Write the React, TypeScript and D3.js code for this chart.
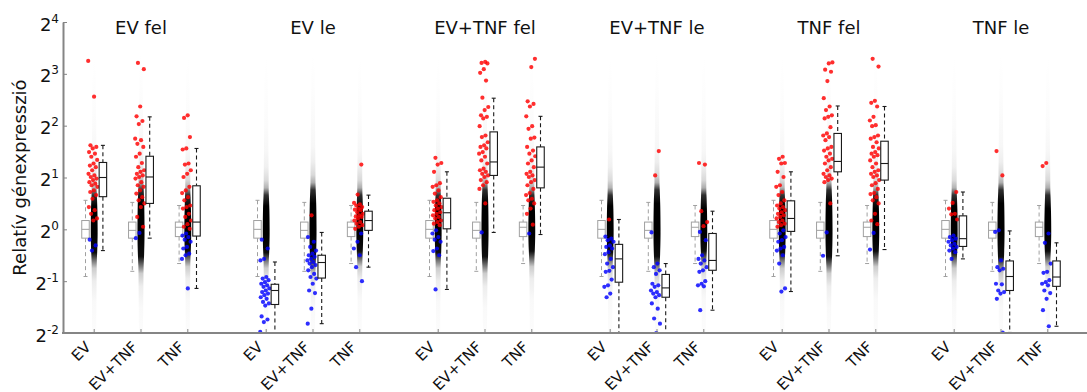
import React, { useEffect, useRef } from "react";
import * as d3 from "d3";

// groups of genes (panel titles) and samples (x categories)
const groups = ["EV fel", "EV le", "EV+TNF fel", "EV+TNF le", "TNF fel", "TNF le"];
const samples = ["EV", "EV+TNF", "TNF"];
const yTickExp = [-2, -1, 0, 1, 2, 3, 4];

// boxplot of all genes per sample, log2: [lowWhisker, q1, median, q3, highWhisker]
const allGenesBox = [
  [-0.91, -0.17, 0.0, 0.17, 0.56],
  [-0.81, -0.17, -0.02, 0.14, 0.52],
  [-0.66, -0.14, 0.04, 0.14, 0.46],
];

// density profile of the all-gene cloud per sample: [log2, darkness, half width]
const cloudEV = [
  [3.3, 0, 1.2], [2.6, 0.008, 1.8], [2.0, 0.016, 2], [1.5, 0.03, 2.2], [1.2, 0.06, 2.4],
  [0.95, 0.14, 2.5], [0.8, 0.3, 2.5], [0.66, 0.8, 2.6], [0.45, 1, 3.2], [-0.1, 1, 3.6],
  [-0.45, 0.95, 3], [-0.6, 0.55, 2.6], [-0.75, 0.2, 2.5], [-1.0, 0.07, 2.4], [-1.4, 0.025, 2.2], [-2.0, 0.01, 2],
];
const cloudEVTNF = [
  [3.4, 0, 1.2], [2.7, 0.008, 1.8], [2.1, 0.018, 2], [1.6, 0.032, 2.2], [1.3, 0.065, 2.4],
  [1.05, 0.15, 2.5], [0.9, 0.32, 2.5], [0.76, 0.82, 2.7], [0.5, 1, 3.3], [-0.1, 1, 3.7],
  [-0.52, 0.95, 3.1], [-0.7, 0.55, 2.6], [-0.85, 0.2, 2.5], [-1.1, 0.07, 2.4], [-1.5, 0.025, 2.2], [-2.0, 0.01, 2],
];
const cloudTNF = [
  [3.3, 0, 1.2], [2.6, 0.008, 1.8], [2.0, 0.017, 2], [1.5, 0.031, 2.2], [1.2, 0.065, 2.4],
  [0.95, 0.15, 2.5], [0.8, 0.32, 2.5], [0.66, 0.82, 2.7], [0.4, 1, 3.2], [-0.1, 1, 3.6],
  [-0.42, 0.95, 3], [-0.58, 0.55, 2.6], [-0.72, 0.2, 2.5], [-0.95, 0.07, 2.4], [-1.35, 0.025, 2.2], [-2.0, 0.01, 2],
];
const clouds = [cloudEV, cloudEVTNF, cloudTNF];

// selected genes, log2 relative expression in each sample (EV, EV+TNF, TNF)
const evFel = [
  [3.25, 2.56, 1.62, 1.59, 1.56, 1.49, 1.46, 1.4, 1.34, 1.27, 1.23, 1.2, 1.14, 1.07, 1.04, 1.01, 0.98, 0.95, 0.91, 0.88, 0.85, 0.82, 0.75, 0.72, 0.66, 0.59, 0.43, 0.37, 0.3, 0.21, 0.17, -0.2, -0.31, -0.41],
  [3.21, 3.09, 2.37, 2.18, 2.09, 2.03, 1.75, 1.72, 1.65, 1.59, 1.46, 1.4, 1.28, 1.2, 1.14, 1.11, 1.07, 1.04, 1.01, 0.98, 0.91, 0.85, 0.82, 0.75, 0.69, 0.62, 0.56, 0.5, 0.43, 0.24, 0.05, -0.07, -0.17],
  [2.2, 2.15, 1.78, 1.56, 1.54, 1.27, 1.25, 1.14, 1.07, 1.01, 0.82, 0.75, 0.7, 0.62, 0.56, 0.46, 0.43, 0.4, 0.3, 0.24, 0.17, 0.1, 0.05, 0.01, -0.08, -0.12, -0.15, -0.2, -0.24, -0.34, -0.37, -0.47, -0.5, -0.57, -1.14],
];
const evLe = [
  [-0.2, -0.37, -0.57, -0.6, -0.92, -0.95, -0.98, -1.02, -1.05, -1.08, -1.11, -1.14, -1.18, -1.21, -1.24, -1.27, -1.31, -1.34, -1.4, -1.43, -1.47, -1.68, -1.74, -1.79, -1.98],
  [0.27, -0.15, -0.24, -0.34, -0.41, -0.47, -0.5, -0.53, -0.57, -0.6, -0.63, -0.66, -0.69, -0.73, -0.79, -0.86, -0.92, -0.95, -1.05, -1.18, -1.23, -1.53, -1.82],
  [1.25, 0.67, 0.51, 0.48, 0.46, 0.43, 0.4, 0.38, 0.37, 0.33, 0.3, 0.27, 0.25, 0.24, 0.21, 0.17, 0.14, 0.11, 0.08, 0.05, 0.01, -0.08, -0.24, -0.37, -0.5, -0.73, -1.0],
];
const evTnfFel = [
  [1.38, 1.28, 1.25, 1.11, 0.89, 0.85, 0.82, 0.75, 0.69, 0.62, 0.56, 0.53, 0.5, 0.46, 0.43, 0.4, 0.37, 0.33, 0.3, 0.27, 0.24, 0.21, 0.17, 0.14, 0.11, 0.08, -0.02, -0.08, -0.15, -0.2, -0.24, -0.37, -0.42, -0.5, -1.16],
  [3.23, 3.21, 3.2, 3.09, 3.02, 2.87, 2.54, 2.36, 2.3, 2.2, 2.17, 2.14, 1.99, 1.81, 1.78, 1.68, 1.62, 1.59, 1.56, 1.49, 1.46, 1.4, 1.33, 1.27, 1.17, 1.14, 1.11, 1.07, 1.04, 1.01, 0.95, 0.91, 0.85, 0.78, 0.5, -0.06],
  [3.29, 3.13, 2.47, 2.42, 2.37, 2.18, 1.99, 1.94, 1.77, 1.75, 1.59, 1.52, 1.46, 1.41, 1.33, 1.27, 1.2, 1.11, 1.07, 1.04, 1.01, 0.95, 0.91, 0.85, 0.78, 0.7, 0.66, 0.59, 0.56, 0.5, 0.4, 0.3, 0.09, -0.08],
];
const evTnfLe = [
  [0.19, -0.14, -0.18, -0.21, -0.24, -0.31, -0.34, -0.37, -0.44, -0.48, -0.57, -0.66, -0.73, -0.8, -0.82, -0.97, -1.08, -1.11, -1.24, -1.31],
  [1.51, 1.04, -0.06, -0.66, -0.73, -0.79, -0.86, -1.05, -1.08, -1.11, -1.18, -1.21, -1.24, -1.27, -1.31, -1.43, -1.53, -1.72, -1.82, -2.0],
  [1.28, 1.25, 0.35, 0.14, 0.06, -0.05, -0.21, -0.5, -0.57, -0.6, -0.66, -0.73, -0.79, -0.82, -1.0, -1.05, -1.08, -1.1, -1.56],
];
const tnfFel = [
  [1.4, 1.36, 1.28, 1.27, 1.11, 1.01, 0.85, 0.82, 0.72, 0.66, 0.56, 0.5, 0.46, 0.43, 0.4, 0.37, 0.33, 0.3, 0.27, 0.24, 0.21, 0.17, 0.14, 0.11, 0.08, 0.05, -0.02, -0.08, -0.15, -0.21, -0.24, -0.34, -0.37, -0.41, -0.5, -0.66, -1.14, -1.2],
  [3.22, 3.2, 3.08, 3.04, 2.86, 2.53, 2.37, 2.3, 2.2, 2.17, 2.14, 1.97, 1.85, 1.81, 1.78, 1.72, 1.59, 1.56, 1.52, 1.46, 1.4, 1.36, 1.33, 1.27, 1.2, 1.14, 1.07, 1.04, 1.01, 0.98, 0.95, 0.91, 0.5, -0.06, -0.51],
  [3.29, 3.14, 2.48, 2.44, 2.37, 2.17, 2.1, 2.01, 1.99, 1.81, 1.78, 1.75, 1.68, 1.59, 1.56, 1.49, 1.46, 1.43, 1.4, 1.33, 1.27, 1.2, 1.14, 1.11, 1.07, 1.04, 1.01, 0.95, 0.89, 0.85, 0.78, 0.7, 0.68, 0.62, 0.56, 0.5, 0.3, 0.17, 0.1, -0.07, -0.39],
];
const tnfLe = [
  [0.72, 0.51, 0.4, 0.3, 0.29, 0.19, -0.12, -0.15, -0.18, -0.21, -0.24, -0.28, -0.31, -0.34, -0.37, -0.41, -0.44, -0.57],
  [1.51, 1.04, -0.02, -0.05, -0.6, -0.73, -0.76, -0.79, -1.05, -1.06, -1.18, -1.21, -1.24, -1.34, -1.99],
  [1.28, 1.22, -0.08, -0.26, -0.66, -0.82, -0.84, -0.98, -1.02, -1.05, -1.08, -1.18, -1.23, -1.34, -1.56, -1.87],
];

// boxplots of the selected genes: [lowWhisker, q1, median, q3, highWhisker]
const evFelBox = [[-0.41, 0.63, 1.0, 1.29, 1.62], [-0.17, 0.5, 1.01, 1.41, 2.17], [-1.14, -0.13, 0.14, 0.84, 1.56]];
const evLeBox = [[-2.01, -1.45, -1.18, -1.06, -0.63], [-1.82, -0.94, -0.64, -0.5, -0.06], [-0.73, -0.02, 0.17, 0.35, 0.66]];
const evTnfFelBox = [[-1.16, 0.01, 0.32, 0.6, 1.11], [-0.06, 1.04, 1.3, 1.88, 2.53], [-0.1, 0.8, 1.2, 1.59, 2.18]];
const evTnfLeBox = [[-2.01, -1.02, -0.57, -0.29, 0.19], [-2.01, -1.31, -1.13, -0.87, -0.66], [-1.56, -0.79, -0.6, -0.08, 0.35]];
const tnfFelBox = [[-1.2, -0.04, 0.21, 0.55, 1.11], [-0.51, 1.11, 1.31, 1.85, 2.38], [-0.39, 0.95, 1.27, 1.7, 2.37]];
const tnfLeBox = [[-0.57, -0.33, -0.18, 0.26, 0.72], [-1.99, -1.18, -0.91, -0.61, -0.03], [-1.87, -1.1, -0.92, -0.61, -0.26]];

const groupValues = [evFel, evLe, evTnfFel, evTnfLe, tnfFel, tnfLe];
const groupBoxes = [evFelBox, evLeBox, evTnfFelBox, evTnfLeBox, tnfFelBox, tnfLeBox];

const W = 1087;
const H = 392;
const FONT = "DejaVu Sans, Verdana, sans-serif";
const AXIS = "#858585";

export default function App() {
  const svgRef = useRef<SVGSVGElement>(null);

  useEffect(() => {
    const svg = d3.select(svgRef.current);
    svg.selectAll("*").remove();

    const left = 63;
    const bottom = 333;
    const top = 22;

    const x = d3.scaleBand().domain(groups).range([55, 1087]).padding(0);
    const xi = d3.scalePoint().domain(samples).range([-46.8, 46.8]);
    const y = d3.scaleLog().base(2).domain([0.25, 16]).range([bottom, top]);
    const yv = (v: number) => y(Math.pow(2, v));
    const tickX = (g: string, s: string) => (x(g) as number) + x.bandwidth() / 2 + (xi(s) as number);
    const shade = d3.interpolateRgb("#ffffff", "#000000");

    const defs = svg.append("defs");
    defs.append("clipPath").attr("id", "plotClip")
      .append("rect").attr("x", left).attr("y", 0).attr("width", W - left).attr("height", bottom - 1);

    // vertical grey gradient for each sample cloud
    clouds.forEach((prof, si) => {
      const y0 = yv(prof[0][0]);
      const y1 = yv(prof[prof.length - 1][0]);
      const grad = defs.append("linearGradient")
        .attr("id", `cloud${si}`)
        .attr("gradientUnits", "userSpaceOnUse")
        .attr("x1", 0).attr("x2", 0).attr("y1", y0).attr("y2", y1);
      prof.forEach(p => {
        grad.append("stop")
          .attr("offset", ((yv(p[0]) - y0) / (y1 - y0)).toFixed(4))
          .attr("stop-color", shade(p[1]));
      });
    });

    const plot = svg.append("g").attr("clip-path", "url(#plotClip)");

    const boxW = 7.5;
    const boxOff = 8.7;

    const drawBox = (cx: number, st: number[], color: string, width: number) => {
      const [lo, q1, med, q3, hi] = st;
      const b = plot.append("g").attr("stroke", color).attr("fill", "none");
      b.append("line").attr("x1", cx).attr("x2", cx).attr("y1", yv(hi)).attr("y2", yv(q3))
        .attr("stroke-width", width).attr("stroke-dasharray", "4,3");
      b.append("line").attr("x1", cx).attr("x2", cx).attr("y1", yv(q1)).attr("y2", yv(lo))
        .attr("stroke-width", width).attr("stroke-dasharray", "4,3");
      [hi, lo].forEach(v => {
        b.append("line").attr("x1", cx - 2).attr("x2", cx + 2).attr("y1", yv(v)).attr("y2", yv(v))
          .attr("stroke-width", width);
      });
      b.append("rect").attr("x", cx - boxW / 2).attr("y", yv(q3))
        .attr("width", boxW).attr("height", yv(q1) - yv(q3))
        .attr("fill", "#fff").attr("stroke-width", width);
      b.append("line").attr("x1", cx - boxW / 2).attr("x2", cx + boxW / 2)
        .attr("y1", yv(med)).attr("y2", yv(med)).attr("stroke-width", width);
    };

    const cloudArea = d3.area<number[]>()
      .y(d => yv(d[0]))
      .curve(d3.curveBasis);

    groups.forEach((g, gi) => {
      samples.forEach((s, si) => {
        const cx = tickX(g, s);

        // all genes: grey box + dense cloud
        drawBox(cx - boxOff, allGenesBox[si], "#a0a0a0", 1);
        plot.append("path")
          .datum(clouds[si])
          .attr("d", cloudArea.x0(d => cx - d[2]).x1(d => cx + d[2]))
          .attr("fill", `url(#cloud${si})`);

        // selected genes
        const vals = groupValues[gi][si];
        plot.append("g")
          .selectAll("circle")
          .data(vals)
          .join("circle")
          .attr("cx", (d, i) => cx - 6 + 9.5 * ((i * 0.6180339 + si * 0.31 + gi * 0.17) % 1))
          .attr("cy", d => yv(d))
          .attr("r", 2.1)
          .attr("fill", d => (d >= 0 ? "#ff0000" : "#0000ff"))
          .attr("fill-opacity", 0.82);

        drawBox(cx + boxOff, groupBoxes[gi][si], "#1a1a1a", 1.1);
      });

      svg.append("text")
        .attr("x", (x(g) as number) + x.bandwidth() / 2)
        .attr("y", 34)
        .attr("text-anchor", "middle")
        .attr("font-family", FONT)
        .attr("font-size", 18)
        .attr("fill", "#111")
        .text(g);
    });

    // axes
    const yAxis = d3.axisLeft(y).tickValues(yTickExp.map(e => Math.pow(2, e)))
      .tickSizeInner(-4).tickSizeOuter(0).tickFormat(() => "");
    const ya = svg.append("g").attr("transform", `translate(${left},0)`).call(yAxis);
    ya.select(".domain").attr("stroke", AXIS).attr("stroke-width", 2);
    ya.selectAll(".tick line").attr("stroke", AXIS).attr("stroke-width", 1);

    svg.append("line")
      .attr("x1", left - 1).attr("x2", W).attr("y1", bottom).attr("y2", bottom)
      .attr("stroke", AXIS).attr("stroke-width", 2);

    yTickExp.forEach(e => {
      const t = svg.append("text")
        .attr("x", 59)
        .attr("y", yv(e) + 8.5)
        .attr("text-anchor", "end")
        .attr("font-family", FONT)
        .attr("font-size", 18)
        .attr("fill", "#111");
      t.append("tspan").text("2");
      t.append("tspan").attr("font-size", 12).attr("dy", -8).text(String(e));
    });

    groups.forEach(g => {
      samples.forEach(s => {
        const cx = tickX(g, s);
        svg.append("line")
          .attr("x1", cx).attr("x2", cx).attr("y1", bottom).attr("y2", bottom - 4)
          .attr("stroke", AXIS).attr("stroke-width", 1);
        svg.append("text")
          .attr("transform", `translate(${cx - 2.5},${bottom + 15}) rotate(-45)`)
          .attr("text-anchor", "end")
          .attr("font-family", FONT)
          .attr("font-size", 15)
          .attr("fill", "#111")
          .text(s);
      });
    });

    svg.append("text")
      .attr("transform", `translate(26,${(top + bottom) / 2}) rotate(-90)`)
      .attr("text-anchor", "middle")
      .attr("font-family", FONT)
      .attr("font-size", 18)
      .attr("fill", "#111")
      .text("Relatív génexpresszió");
  }, []);

  return (
    <svg
      ref={svgRef}
      width={W}
      height={H}
      style={{ position: "absolute", left: 0, top: 0, background: "#fff" }}
    />
  );
}
